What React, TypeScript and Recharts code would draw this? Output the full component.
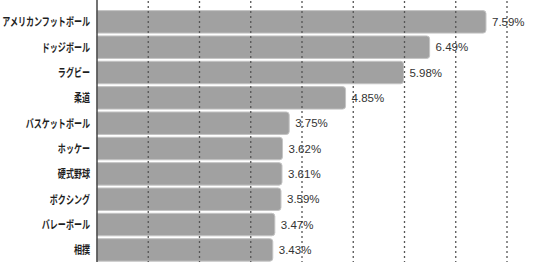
import * as React from "react";
import {
  Bar,
  BarChart,
  LabelList,
  ReferenceLine,
  XAxis,
  YAxis
} from "recharts";

const sports = [
  "アメリカンフットボール",
  "ドッジボール",
  "ラグビー",
  "柔道",
  "バスケットボール",
  "ホッケー",
  "硬式野球",
  "ボクシング",
  "バレーボール",
  "相撲"
];
const rates = [7.59, 6.49, 5.98, 4.85, 3.75, 3.62, 3.61, 3.59, 3.47, 3.43];
const gridTicks = [1, 2, 3, 4, 5, 6, 7, 8];

const chartData = sports.map((sport, i) => ({ sport, rate: rates[i] }));

function SportTick(props: any) {
  const { x, y, payload } = props;
  return (
    <g transform={`translate(${x},${y})`}>
      <text
        transform="scale(0.7,1)"
        textAnchor="end"
        dy="0.36em"
        fontSize={11.5}
        fontWeight={700}
        fill="#1e1e1e"
        fontFamily="'Noto Sans CJK JP', sans-serif"
      >
        {payload.value}
      </text>
    </g>
  );
}

export default function App() {
  return (
    <div
      style={{
        position: "fixed",
        left: 0,
        top: 0,
        width: 544,
        height: 262,
        overflow: "hidden",
        background: "#fff"
      }}
    >
      <BarChart
        width={544}
        height={263}
        data={chartData}
        layout="vertical"
        margin={{ top: 0, right: 37, bottom: 0, left: 0 }}
      >
        <XAxis type="number" domain={[0, 8]} ticks={gridTicks} hide />
        <YAxis
          type="category"
          dataKey="sport"
          width={97}
          padding={{ top: 9.6, bottom: 0 }}
          tickLine={false}
          tickMargin={1}
          tickSize={6}
          axisLine={{ stroke: "#444", strokeWidth: 1.5 }}
          tick={<SportTick />}
          interval={0}
        />
        <Bar
          dataKey="rate"
          fill="#a1a1a1"
          stroke="#c4c4c4"
          strokeWidth={1}
          barSize={22.5}
          radius={[0, 3, 3, 0]}
          isAnimationActive={false}
        >
          <LabelList
            dataKey="rate"
            position="right"
            offset={6}
            formatter={(v: any) => `${Number(v).toFixed(2)}%`}
            fill="#333"
            fontSize={11.5}
            fontFamily="'Liberation Sans', Arial, sans-serif"
          />
        </Bar>
        {gridTicks.map((t) => (
          <ReferenceLine
            key={t}
            x={t}
            stroke="#555"
            strokeWidth={1.3}
            strokeDasharray="2 3"
            zIndex={500}
          />
        ))}
      </BarChart>
    </div>
  );
}
